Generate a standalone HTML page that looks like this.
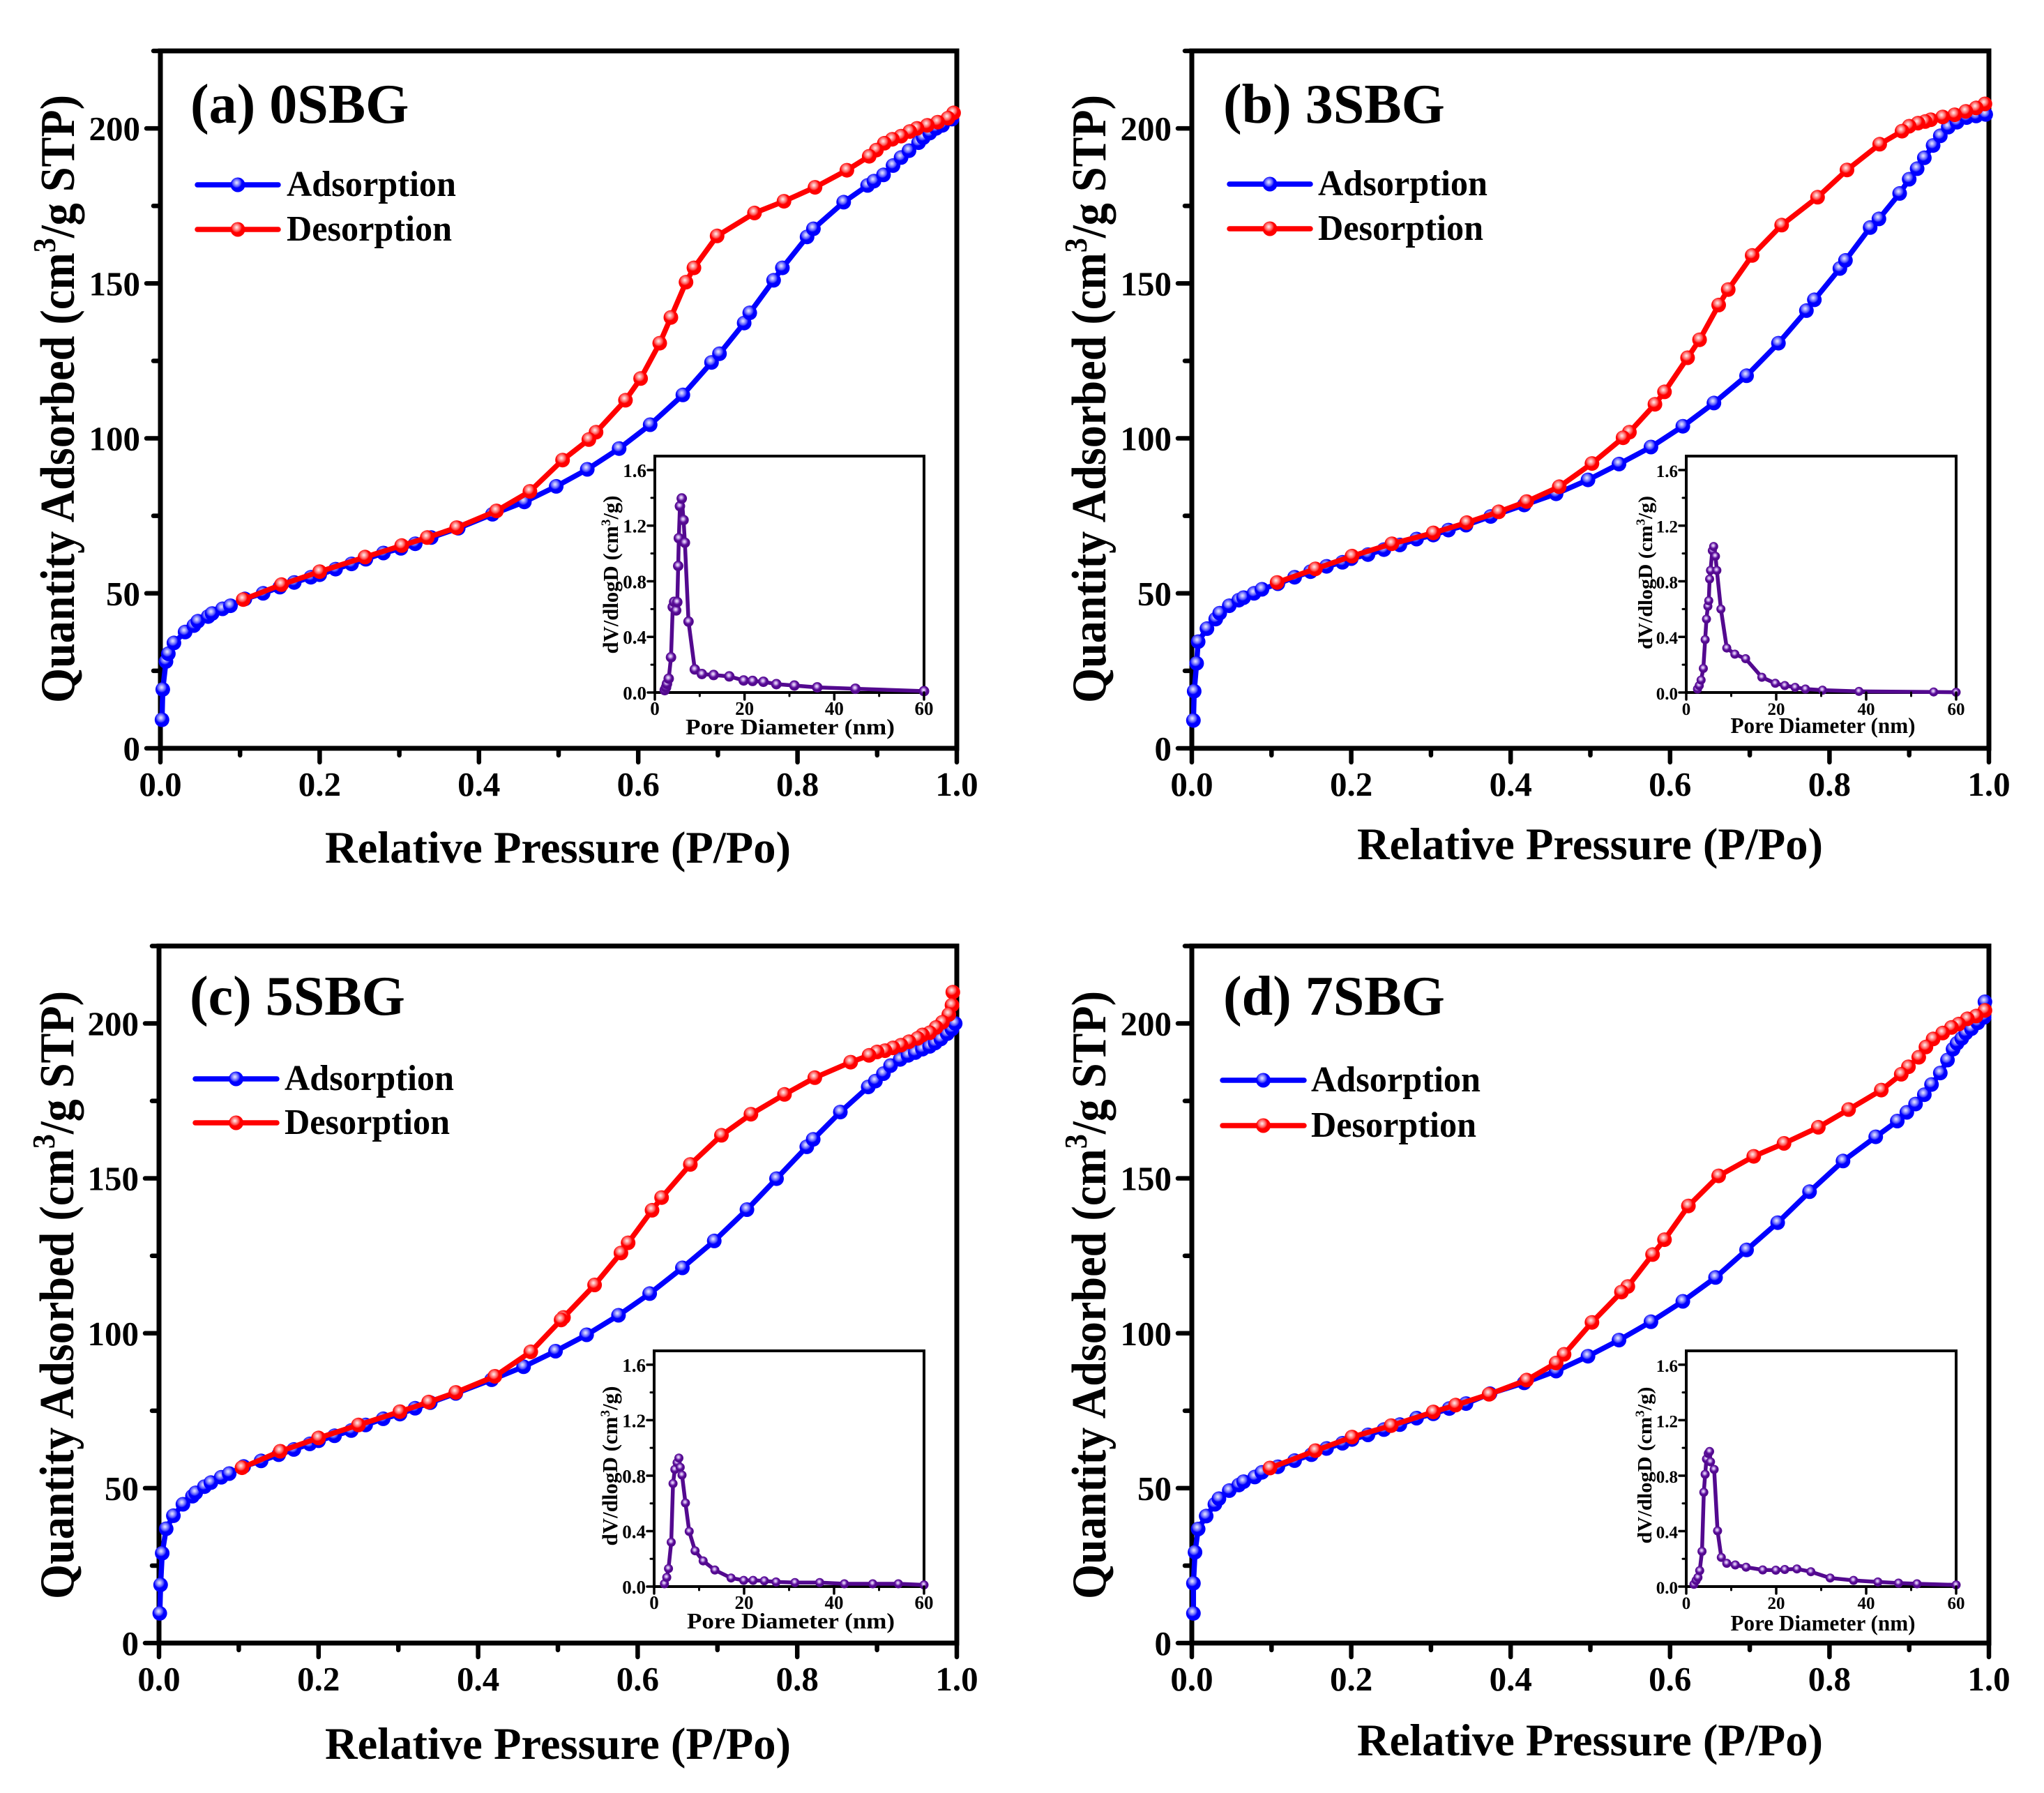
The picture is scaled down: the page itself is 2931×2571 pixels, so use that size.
<!DOCTYPE html>
<html lang="en">
<head>
<meta charset="utf-8">
<title>N2 adsorption-desorption isotherms</title>
<style>
html,body{margin:0;padding:0;background:#fff;}
svg{display:block;}
text{font-family:"Liberation Serif","Times New Roman",serif;font-weight:bold;fill:#000;}
</style>
</head>
<body>
<svg id="figure" xmlns="http://www.w3.org/2000/svg" width="2931" height="2571" viewBox="0 0 2931 2571">
<defs>
<radialGradient id="blueDot" cx="42%" cy="36%" r="58%"><stop offset="0%" stop-color="#e8e8ff"/><stop offset="18%" stop-color="#b4b4ff"/><stop offset="48%" stop-color="#4a4aff"/><stop offset="62%" stop-color="#0000ff"/></radialGradient>
<radialGradient id="redDot" cx="42%" cy="36%" r="58%"><stop offset="0%" stop-color="#ffeeee"/><stop offset="18%" stop-color="#ffb4b4"/><stop offset="48%" stop-color="#ff4a4a"/><stop offset="62%" stop-color="#ff0000"/></radialGradient>
<radialGradient id="purpleDot" cx="45%" cy="40%" r="58%"><stop offset="0%" stop-color="#f2e6ff"/><stop offset="22%" stop-color="#c9a8e8"/><stop offset="50%" stop-color="#6a1fa8"/><stop offset="65%" stop-color="#53098f"/></radialGradient>
</defs>
</svg>
<script>
/* shared tick data */
const pressureTicks = [0, 0.2, 0.4, 0.6, 0.8, 1.0];
const pressureTickLabels = ['0.0', '0.2', '0.4', '0.6', '0.8', '1.0'];
const pressureMinorTicks = [0.1, 0.3, 0.5, 0.7, 0.9];
const quantityTicks = [0, 50, 100, 150, 200];
const quantityTickLabels = ['0', '50', '100', '150', '200'];
const quantityMinorTicks = [25, 75, 125, 175, 225];
const poreTicks = [0, 20, 40, 60];
const poreTickLabels = ['0', '20', '40', '60'];
const poreMinorTicks = [10, 30, 50];
const dvTicks = [0, 0.4, 0.8, 1.2, 1.6];
const dvTickLabels = ['0.0', '0.4', '0.8', '1.2', '1.6'];
const dvMinorTicks = [0.2, 0.6, 1.0, 1.4];

/* panel a: 0SBG */
const aAdsP = [.002,.003,.007,.01,.017,.031,.042,.047,.06,.065,.078,.088,.106,.129,.15,.168,.189,.2,.22,.24,.258,.28,.302,.32,.34,.374,.417,.457,.497,.536,.576,.615,.656,.692,.702,.733,.74,.77,.781,.812,.82,.858,.888,.896,.908,.92,.93,.94,.952,.958,.966,.974,.982,.994];
const aAdsQ = [9.2,19,28,30.5,34,37.5,39.6,41,42.5,43.5,45,46,48.2,50,52,53.5,55.2,56,57.8,59.5,61,63,64.5,66,68,71,75.5,79.5,84.5,90,96.7,104.4,114,124.5,127.3,137.2,140.5,151,155,165,167.6,176.2,181.6,183,185,188,190.6,192.8,195.4,197,198.5,200,201,203];
const aDesP = [.996,.989,.976,.963,.95,.941,.93,.919,.909,.899,.89,.862,.822,.783,.746,.699,.67,.66,.641,.627,.603,.584,.547,.538,.505,.464,.422,.372,.335,.303,.257,.2,.152,.104];
const aDesQ = [205,203.3,202,201,200,199,197.5,196.5,195.2,193,191,186.5,181,176.5,172.7,165.3,155,150.4,139,130.7,119.3,112.3,102,99.6,93,82.9,76.6,71.2,68,65.4,61.7,57,52.8,48];
const aPoreD = [2.2,2.5,2.7,3.1,3.6,4,4.3,4.75,5,5.2,5.35,5.6,6,6.4,6.7,7.5,8.9,10.5,13.1,16.6,19.8,21.8,24.2,27.1,31.1,36.2,44.7,60];
const aPoreV = [.017,.037,.062,.1,.253,.615,.652,.59,.65,.91,1.11,1.34,1.395,1.24,1.077,.51,.166,.133,.126,.116,.087,.083,.077,.06,.05,.037,.027,.01];

/* panel b: 3SBG */
const bAdsP = [.002,.003,.006,.008,.019,.03,.035,.047,.059,.065,.078,.088,.108,.129,.149,.169,.189,.2,.221,.241,.261,.282,.303,.322,.344,.375,.417,.457,.497,.536,.576,.616,.655,.696,.736,.771,.781,.813,.82,.851,.862,.888,.9,.91,.919,.93,.939,.949,.96,.972,.984,.996];
const bAdsQ = [9,18.4,27.4,34.4,38.6,41.7,43.6,46,47.8,48.6,50,51.3,53.1,55.2,57,58.7,60,61.2,62.5,64.1,65.6,67.5,68.8,70.4,72,74.8,78.5,82.1,86.6,91.7,97.2,103.9,111.4,120.2,130.7,141.2,144.7,154.8,157.4,168,170.8,179,183.6,187,190.5,194.5,197.6,200.4,202,203.5,204,204.5];
const bDesP = [.995,.984,.971,.957,.942,.927,.92,.911,.9,.891,.863,.822,.785,.74,.703,.673,.661,.637,.622,.593,.581,.549,.541,.502,.461,.42,.385,.345,.303,.251,.201,.155,.107];
const bDesQ = [207.9,206.6,205.5,204.4,203.7,202.8,202.2,201.7,200.7,199.1,194.9,186.6,177.8,168.8,159,148,143,131.8,126,115,111,102,100.2,91.9,84.4,79.6,76.3,72.8,69.5,66,62,57.9,53.5];
const bPoreD = [2.5,2.9,3.3,3.8,4.2,4.5,4.8,5,5.2,5.4,5.8,6.1,6.5,6.8,7.7,9,10.8,13.2,16.8,19.8,21.9,24.2,26.5,30.3,38.4,55,60];
const bPoreV = [.025,.05,.09,.173,.38,.528,.62,.66,.816,.878,1.02,1.05,.98,.878,.6,.32,.276,.243,.11,.066,.05,.037,.025,.017,.008,.004,.002];

/* panel c: 5SBG */
const cAdsP = [.001,.002,.004,.009,.018,.03,.042,.046,.057,.065,.078,.088,.106,.128,.15,.169,.189,.2,.22,.241,.259,.281,.302,.321,.34,.372,.417,.457,.497,.536,.576,.615,.656,.696,.737,.774,.812,.82,.854,.889,.898,.908,.917,.929,.939,.948,.957,.966,.973,.98,.988,.994,.998];
const cAdsQ = [9.6,18.8,29,36.9,41.1,44.8,47.4,48.5,50.5,51.8,53.5,54.7,57,58.8,60.8,62.5,64.3,65.3,66.9,68.6,70.4,72.4,73.9,75.8,77.6,80.6,85,89.2,94.2,99.5,105.8,112.8,121.1,129.8,139.9,149.9,160.2,162.6,171.4,179.5,181.4,183.8,186.4,188.4,189.7,190.6,191.7,192.6,193.7,195,196.7,198.2,200];
const cDesP = [.995,.994,.99,.982,.974,.966,.957,.951,.94,.93,.92,.91,.9,.89,.867,.822,.784,.742,.705,.666,.63,.618,.588,.579,.546,.507,.504,.466,.421,.372,.338,.302,.25,.2,.152,.104];
const cDesQ = [210.1,205.9,202.9,200.4,198.7,197,196.3,195.2,194.1,193,192.1,191.2,190.8,189.7,187.5,182.5,177.1,170.7,163.9,154.5,143.8,139.7,129.2,125.9,115.6,105.1,104.3,94,86.1,80.9,77.8,74.7,70.4,66.2,61.9,56.6];
const cPoreD = [2.3,2.8,3.2,3.8,4.2,4.6,5.1,5.5,5.8,6.2,6.96,7.8,9.1,10.9,13.5,17.1,19.9,22,24.5,27.1,31.3,36.8,42.3,48.6,54.3,60];
const cPoreV = [.02,.066,.13,.32,.743,.845,.894,.927,.86,.804,.603,.398,.258,.185,.119,.062,.045,.045,.041,.033,.029,.029,.02,.02,.02,.012];

/* panel d: 7SBG */
const dAdsP = [.002,.002,.004,.008,.018,.029,.034,.047,.059,.065,.079,.088,.108,.129,.15,.169,.189,.201,.221,.241,.261,.282,.303,.323,.344,.374,.417,.457,.497,.536,.576,.616,.657,.696,.735,.775,.817,.858,.885,.897,.908,.919,.928,.939,.948,.955,.96,.966,.971,.978,.986,.994,.995];
const dAdsQ = [9.6,19.3,29.3,36.8,41,44.8,46.6,49.2,51,52.1,53.6,55.1,56.9,58.9,60.8,62.8,64.5,65.7,67.2,68.9,70.5,72.6,74,75.7,77.3,80.5,84,87.8,92.6,97.8,103.7,110.3,118,126.9,135.7,145.7,155.6,163.4,168.5,171.3,174,177,180.3,184,188.2,191.7,193.6,195.2,196.9,198.3,200.2,202,207];
const dDesP = [.995,.984,.973,.962,.953,.942,.93,.921,.912,.899,.89,.865,.824,.786,.743,.705,.661,.623,.593,.578,.547,.539,.502,.467,.457,.42,.373,.331,.303,.25,.201,.155,.098];
const dDesQ = [204.2,202.4,201.5,199.8,198.7,196.9,195,192.4,189.1,186,183.6,178.5,172.2,166.5,161.3,157.1,150.8,141.1,130.2,125.4,115.1,113.3,103.5,93.2,90.4,84.9,80.3,76.8,74.6,70.2,66.5,62.1,56.5];
const dPoreD = [1.7,2.2,2.6,3,3.5,3.9,4.2,4.5,4.9,5.2,5.4,6.2,6.96,7.8,9,10.9,13.3,17,19.9,21.9,24.6,27.7,32,37.2,42.6,47.2,51.3,60];
const dPoreV = [.016,.045,.066,.115,.254,.68,.81,.92,.96,.974,.9,.845,.402,.21,.168,.156,.14,.12,.118,.123,.127,.107,.062,.045,.033,.025,.02,.012];

const svgNS = 'http://www.w3.org/2000/svg';
const root = document.getElementById('figure');

function mk(tag, parent, attrs) {
  const el = document.createElementNS(svgNS, tag);
  for (const k in attrs) el.setAttribute(k, attrs[k]);
  parent.appendChild(el);
  return el;
}

function linear(d0, d1, r0, r1) {
  return v => r0 + (v - d0) * (r1 - r0) / (d1 - d0);
}

function tick(parent, x1, y1, x2, y2, w, name) {
  const t = mk('line', parent, {x1, y1, x2, y2, stroke: '#000', 'stroke-width': w, 'stroke-linecap': 'round'});
  
  
}

function label(parent, str, attrs, name) {
  const t = mk('text', parent, attrs);
  t.textContent = str;
  
  
  return t;
}

function series(parent, xs, ys, sx, sy, color, dot, lw, r, name) {
  const g = mk('g', parent, {});
  
  
  const pl = mk('polyline', g, {
    points: xs.map((v, i) => sx(v).toFixed(1) + ',' + sy(ys[i]).toFixed(1)).join(' '),
    fill: 'none', stroke: color, 'stroke-width': lw, 'stroke-linejoin': 'round', 'stroke-linecap': 'round'
  });
  
  
  xs.forEach((v, i) => {
    const c = mk('circle', g, {cx: sx(v).toFixed(1), cy: sy(ys[i]).toFixed(1), r, fill: 'url(#' + dot + ')'});
    
    
  });
}

function legendEntry(parent, c, y, text, width, color, dot, name) {
  const g = mk('g', parent, {});
  
  
  const l = mk('line', g, {x1: c.lx0, y1: y, x2: c.lx1, y2: y, stroke: color, 'stroke-width': 7.5, 'stroke-linecap': 'round'});
  
  
  const m = mk('circle', g, {cx: (c.lx0 + c.lx1) / 2, cy: y, r: 10.5, fill: 'url(#' + dot + ')'});
  
  
  label(g, text, {x: c.ltx, y: y + 16, 'font-size': 52, textLength: width, lengthAdjust: 'spacingAndGlyphs'}, name + '-label');
}

function drawInset(parent, c, px, pv) {
  const g = mk('g', parent, {});
  
  
  const L = c.il, R = c.ir, T = c.it, B = c.ib;
  const sx = linear(0, 60, L, R);
  const sy = linear(0, 1.7, B, T);
  const frame = mk('rect', g, {x: L, y: T, width: R - L, height: B - T, fill: '#fff', stroke: '#000', 'stroke-width': 4});
  
  
  series(g, px, pv, sx, sy, '#53098f', 'purpleDot', 5.5, c.idot, 'pore-distribution');
  poreTicks.forEach((v, i) => {
    tick(g, sx(v), B, sx(v), B + 10, 3.5, 'inset-x-major-tick');
    label(g, poreTickLabels[i], {x: sx(v), y: B + 32, 'font-size': c.ifs, 'text-anchor': 'middle'}, 'inset-x-tick-label');
  });
  poreMinorTicks.forEach(v => tick(g, sx(v), B, sx(v), B + 5, 3, 'inset-x-minor-tick'));
  dvTicks.forEach((v, i) => {
    tick(g, L, sy(v), L - 10, sy(v), 3.5, 'inset-y-major-tick');
    label(g, dvTickLabels[i], {x: L - 12, y: sy(v) + 10, 'font-size': c.ifs, 'text-anchor': 'end'}, 'inset-y-tick-label');
  });
  dvMinorTicks.forEach(v => tick(g, L, sy(v), L - 5, sy(v), 3, 'inset-y-minor-tick'));
  label(g, 'Pore Diameter (nm)', {x: c.ixc, y: c.ixb, 'font-size': 32, 'text-anchor': 'middle', textLength: c.ixw, lengthAdjust: 'spacingAndGlyphs'}, 'inset-x-axis-title');
  const yt = label(g, 'dV/dlogD (cm', {transform: 'translate(' + c.iyx + ',' + c.iyc + ') rotate(-90)', x: 0, y: 0, 'font-size': c.iyfs, 'text-anchor': 'middle', textLength: c.iyw, lengthAdjust: 'spacingAndGlyphs'}, 'inset-y-axis-title');
  const s1 = mk('tspan', yt, {'font-size': c.iyfs * 0.62, dy: -c.iyfs * 0.36});
  s1.textContent = '3';
  const s2 = mk('tspan', yt, {dy: c.iyfs * 0.36});
  s2.textContent = '/g)';
}

function drawPanel(c, adsP, adsQ, desP, desQ, poreD, poreV) {
  const g = mk('g', root, {});
  
  
  const sx = linear(0, 1, c.l, c.r);
  const sy = linear(0, 225, c.b, c.t);

  pressureTicks.forEach((v, i) => {
    tick(g, sx(v), c.b, sx(v), c.b + 20, 6.5, 'x-major-tick');
    label(g, pressureTickLabels[i], {x: sx(v), y: c.b + 68, 'font-size': 49, 'text-anchor': 'middle'}, 'x-tick-label');
  });
  pressureMinorTicks.forEach(v => tick(g, sx(v), c.b, sx(v), c.b + 10, 6.5, 'x-minor-tick'));
  quantityTicks.forEach((v, i) => {
    tick(g, c.l, sy(v), c.l - 20, sy(v), 6.5, 'y-major-tick');
    label(g, quantityTickLabels[i], {x: c.l - 29, y: sy(v) + 17, 'font-size': 49, 'text-anchor': 'end'}, 'y-tick-label');
  });
  quantityMinorTicks.forEach(v => tick(g, c.l, sy(v), c.l - 10, sy(v), 6.5, 'y-minor-tick'));

  const frame = mk('rect', g, {x: c.l, y: c.t, width: c.r - c.l, height: c.b - c.t, fill: 'none', stroke: '#000', 'stroke-width': 7});
  
  

  drawInset(g, c, poreD, poreV);
  series(g, adsP, adsQ, sx, sy, '#0000ff', 'blueDot', 7.5, 10.5, 'adsorption-series');
  series(g, desP, desQ, sx, sy, '#ff0000', 'redDot', 7.5, 10.5, 'desorption-series');

  label(g, c.title, {x: c.tx, y: c.ty, 'font-size': 80}, 'panel-title');
  legendEntry(g, c, c.ly0, 'Adsorption', 243, '#0000ff', 'blueDot', 'legend-adsorption');
  legendEntry(g, c, c.ly1, 'Desorption', 237, '#ff0000', 'redDot', 'legend-desorption');

  label(g, 'Relative Pressure (P/Po)', {x: c.xtc, y: c.xtb, 'font-size': 65, 'text-anchor': 'middle', textLength: 668, lengthAdjust: 'spacingAndGlyphs'}, 'x-axis-title');
  const yt = label(g, 'Quantity Adsorbed (cm', {transform: 'translate(' + c.ytx + ',' + c.ytc + ') rotate(-90)', x: 0, y: 0, 'font-size': 70, 'text-anchor': 'middle', textLength: 872, lengthAdjust: 'spacingAndGlyphs'}, 'y-axis-title');
  const s1 = mk('tspan', yt, {'font-size': 46, dy: -27});
  s1.textContent = '3';
  const s2 = mk('tspan', yt, {dy: 27});
  s2.textContent = '/g STP)';
}

drawPanel({name: 'panel-a-0sbg', title: '(a) 0SBG', l: 230, r: 1372, t: 73, b: 1073, tx: 273, ty: 176,
  lx0: 283, lx1: 399, ly0: 265, ly1: 329, ltx: 411, xtc: 800, xtb: 1237, ytx: 106, ytc: 572,
  il: 939, ir: 1325, it: 654, ib: 993, ifs: 27, idot: 7.5, ixc: 1133, ixb: 1053, ixw: 300, iyx: 886, iyc: 824, iyw: 227, iyfs: 31},
  aAdsP, aAdsQ, aDesP, aDesQ, aPoreD, aPoreV);
drawPanel({name: 'panel-b-3sbg', title: '(b) 3SBG', l: 1709, r: 2852, t: 73, b: 1073, tx: 1754, ty: 176,
  lx0: 1763, lx1: 1879, ly0: 264, ly1: 328, ltx: 1890, xtc: 2280, xtb: 1232, ytx: 1585, ytc: 572,
  il: 2418, ir: 2805, it: 654, ib: 993, ifs: 25, idot: 6.5, ixc: 2614, ixb: 1051, ixw: 265, iyx: 2369, iyc: 821, iyw: 220, iyfs: 29},
  bAdsP, bAdsQ, bDesP, bDesQ, bPoreD, bPoreV);
drawPanel({name: 'panel-c-5sbg', title: '(c) 5SBG', l: 228, r: 1372, t: 1356.5, b: 2356, tx: 272, ty: 1455,
  lx0: 280, lx1: 397, ly0: 1547, ly1: 1610, ltx: 408, xtc: 800, xtb: 2522, ytx: 105, ytc: 1857,
  il: 938, ir: 1325, it: 1937, ib: 2275, ifs: 27, idot: 6.5, ixc: 1134, ixb: 2335, ixw: 298, iyx: 885, iyc: 2102, iyw: 229, iyfs: 31},
  cAdsP, cAdsQ, cDesP, cDesQ, cPoreD, cPoreV);
drawPanel({name: 'panel-d-7sbg', title: '(d) 7SBG', l: 1709, r: 2852, t: 1356.5, b: 2356, tx: 1754, ty: 1455,
  lx0: 1753, lx1: 1870, ly0: 1549, ly1: 1614, ltx: 1880, xtc: 2280, xtb: 2517, ytx: 1585, ytc: 1857,
  il: 2418, ir: 2805, it: 1937, ib: 2275, ifs: 25, idot: 6.5, ixc: 2614, ixb: 2338, ixw: 265, iyx: 2368, iyc: 2101, iyw: 225, iyfs: 29},
  dAdsP, dAdsQ, dDesP, dDesQ, dPoreD, dPoreV);
</script>
</body>
</html>
